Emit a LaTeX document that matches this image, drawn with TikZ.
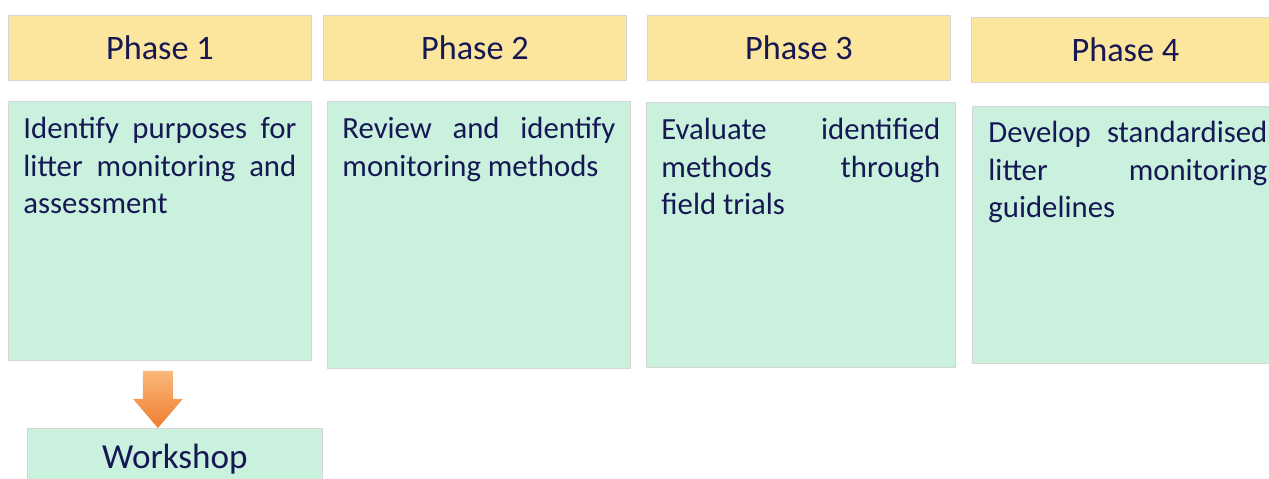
\documentclass[tikz,border=0pt]{standalone}
\usepackage{fontspec}
\setmainfont{Carlito}
\usepackage{xcolor}
\usetikzlibrary{positioning, calc}

\definecolor{phaseyellow}{RGB}{252,229,156}
\definecolor{phasegreen}{RGB}{201,241,221}
\definecolor{boxgrey}{RGB}{214,214,214}
\definecolor{navy}{RGB}{22,24,84}
\definecolor{arrowlight}{RGB}{250,184,124}
\definecolor{arrowdark}{RGB}{239,126,46}

\newcommand{\phasetext}[3]{\parbox[t][#2][t]{#1}{\tolerance=10000\hbadness=10000 #3}}

\begin{document}
\begin{tikzpicture}[
  x=0.02cm, y=-0.02cm,
  phasehead/.style={draw=boxgrey, line width=0.5pt, fill=phaseyellow, anchor=north west,
    minimum width=6.06cm, minimum height=1.3cm, inner sep=0pt, text=navy,
    font=\fontsize{19.5}{23}\selectfont},
  phasebody/.style={draw=boxgrey, line width=0.5pt, fill=phasegreen, anchor=north west,
    inner xsep=0.3cm, inner ysep=0.32cm, text=navy,
    font=\fontsize{17.5}{21.2}\selectfont},
  outcome/.style={draw=boxgrey, line width=0.5pt, fill=phasegreen, anchor=north west,
    minimum width=5.9cm, minimum height=1.24cm, inner sep=0pt, text=navy,
    font=\fontsize{20}{24}\selectfont},
  blockarrow/.style={top color=arrowlight, bottom color=arrowdark}
]
\useasboundingbox (0,0) rectangle (1269,478);
\clip (0,0) rectangle (1269,478);

\node[phasehead] (h1) at (8,15) {Phase 1};
\node[phasehead] (h2) at (323,15) {Phase 2};
\node[phasehead] (h3) at (647,15) {Phase 3};
\node[phasehead, minimum width=6.16cm] (h4) at (971,17) {Phase 4};

\node[phasebody] (b1) at (8,101)
  {\phasetext{5.46cm}{4.54cm}{Identify purposes for\linebreak litter monitoring and\linebreak assessment}};
\node[phasebody] (b2) at (327,101)
  {\phasetext{5.46cm}{4.70cm}{Review and identify\linebreak monitoring methods}};
\node[phasebody] (b3) at (646,102)
  {\phasetext{5.58cm}{4.66cm}{Evaluate identified\linebreak methods through\linebreak field trials}};
\node[phasebody, inner ysep=0.3cm, inner xsep=0.32cm] (b4) at (972,106)
  {\phasetext{5.58cm}{4.54cm}{Develop standardised\linebreak litter monitoring\linebreak guidelines}};

\node[outcome] (ws) at (27,428) {Workshop};

\coordinate (atop) at ($(b1.south)+(-2,10)$);
\shade[blockarrow] ($(atop)+(-15,0)$) -- ($(atop)+(15,0)$) -- ($(atop)+(15,28)$)
  -- ($(atop)+(25,28)$) -- (atop |- ws.north) -- ($(atop)+(-25,28)$)
  -- ($(atop)+(-15,28)$) -- cycle;
\end{tikzpicture}
\end{document}
